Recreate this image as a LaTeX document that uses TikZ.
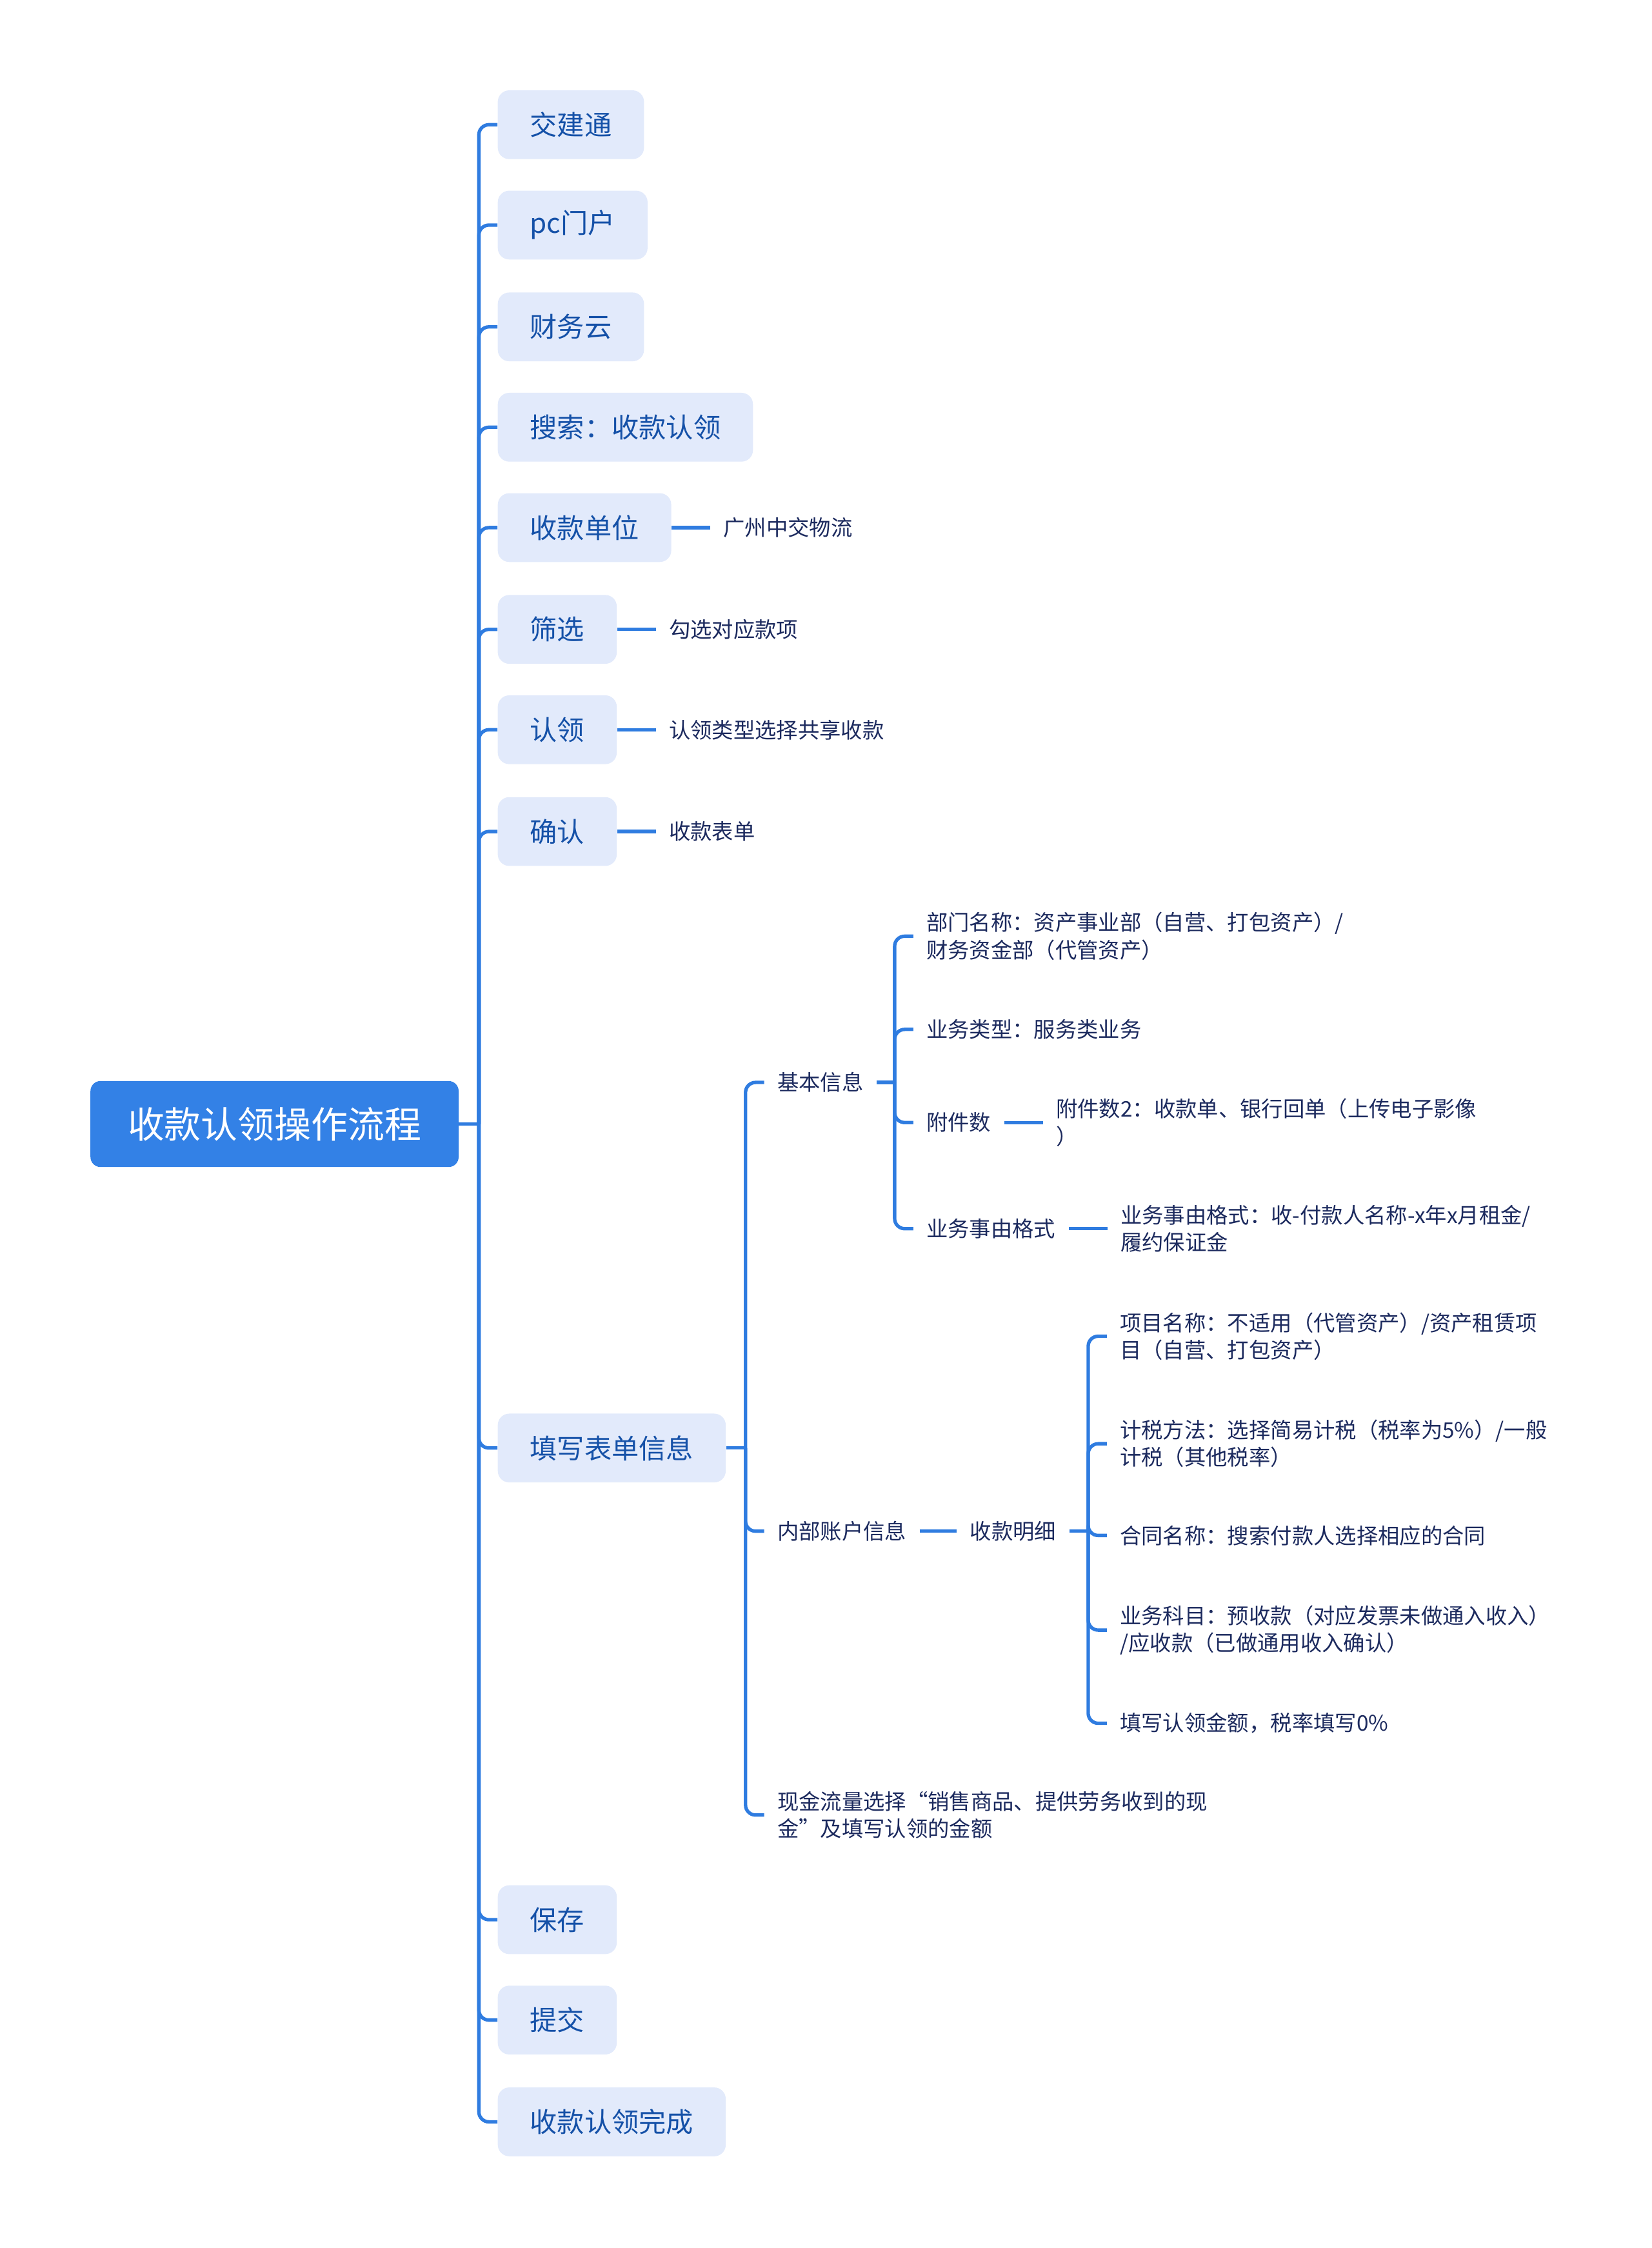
\documentclass[tikz,border=0pt]{standalone}
\usepackage{fontspec}
\setmainfont{Noto Sans CJK SC}
\usetikzlibrary{positioning}

\definecolor{rootblue}{HTML}{3381E6}
\definecolor{linkblue}{HTML}{2F7CE0}
\definecolor{boxblue}{HTML}{E2EAFB}
\definecolor{stepblue}{HTML}{1551A8}
\definecolor{navy}{HTML}{1C2A5E}

\begin{document}
\begin{tikzpicture}[x=1pt, y=-1pt,
    rootbox/.style={fill=rootblue, text=white, rounded corners=7pt, minimum height=60pt,
        inner xsep=26pt, font=\fontsize{25.6}{30}\selectfont},
    stepbox/.style={fill=boxblue, text=stepblue, rounded corners=8pt, minimum height=48pt,
        inner xsep=22.5pt, anchor=west, font=\fontsize{19}{23}\selectfont},
    leaf/.style={text=navy, anchor=west, inner xsep=9pt, align=left,
        font=\fontsize{15}{19}\selectfont},
    conn/.style={draw=linkblue, line width=2.4pt, rounded corners=7pt}]
    \useasboundingbox (0,0) rectangle (1152,1568);

    % 根节点
    \node[rootbox] (root) at (191.5,784) {收款认领操作流程};
    \coordinate (sp0) at (334,784);
    \draw[conn] (root.east) -- (sp0);

    % 第一层步骤
    \foreach \nm/\yy/\txt in {s1/87/交建通, s2/157/pc门户, s3/228/财务云, s4/298/搜索：收款认领,
        s5/368/收款单位, s6/439/筛选, s7/509/认领, s8/580/确认, s9/1010/填写表单信息,
        s10/1339/保存, s11/1409/提交, s12/1480/收款认领完成} {
        \node[stepbox] (\nm) at (347,\yy) {\txt};
        \draw[conn] (sp0) |- (\nm.west);
    }

    % 单个子项
    \foreach \a/\b/\txt in {s5/c1/广州中交物流, s6/c2/勾选对应款项, s7/c3/认领类型选择共享收款, s8/c4/收款表单} {
        \node[leaf, right=27pt of \a] (\b) {\txt};
        \draw[conn] (\a.east) -- (\b.west);
    }

    % 填写表单信息
    \coordinate (sp1) at (520,1010);
    \draw[conn] (s9.east) -- (sp1);
    \node[leaf] (d1) at (533,755) {基本信息};
    \node[leaf] (d2) at (533,1068) {内部账户信息};
    \node[leaf] (d3) at (533,1266) {现金流量选择“销售商品、提供劳务收到的现\\金”及填写认领的金额};
    \foreach \nm in {d1,d2,d3} \draw[conn] (sp1) |- (\nm.west);

    % 基本信息
    \coordinate (sp2) at (624,755);
    \draw[conn] (d1.east) -- (sp2);
    \node[leaf] (e1) at (637,653) {部门名称：资产事业部（自营、打包资产）/\\财务资金部（代管资产）};
    \node[leaf] (e2) at (637,718) {业务类型：服务类业务};
    \node[leaf] (e3) at (637,783) {附件数};
    \node[leaf] (e4) at (637,857) {业务事由格式};
    \foreach \nm in {e1,e2,e3,e4} \draw[conn] (sp2) |- (\nm.west);
    \node[leaf, right=27pt of e3] (f1) {附件数2：收款单、银行回单（上传电子影像\\）};
    \node[leaf, right=27pt of e4] (f2) {业务事由格式：收-付款人名称-x年x月租金/\\履约保证金};
    \draw[conn] (e3.east) -- (f1.west);
    \draw[conn] (e4.east) -- (f2.west);

    % 内部账户信息
    \node[leaf, right=26pt of d2] (g1) {收款明细};
    \draw[conn] (d2.east) -- (g1.west);
    \coordinate (sp3) at (759,1068);
    \draw[conn] (g1.east) -- (sp3);
    \node[leaf] (h1) at (772,932) {项目名称：不适用（代管资产）/资产租赁项\\目（自营、打包资产）};
    \node[leaf] (h2) at (772,1007) {计税方法：选择简易计税（税率为5\%）/一般\\计税（其他税率）};
    \node[leaf] (h3) at (772,1071) {合同名称：搜索付款人选择相应的合同};
    \node[leaf] (h4) at (772,1137) {业务科目：预收款（对应发票未做通入收入）\\/应收款（已做通用收入确认）};
    \node[leaf] (h5) at (772,1202) {填写认领金额，税率填写0\%};
    \foreach \nm in {h1,h2,h3,h4,h5} \draw[conn] (sp3) |- (\nm.west);
\end{tikzpicture}
\end{document}
